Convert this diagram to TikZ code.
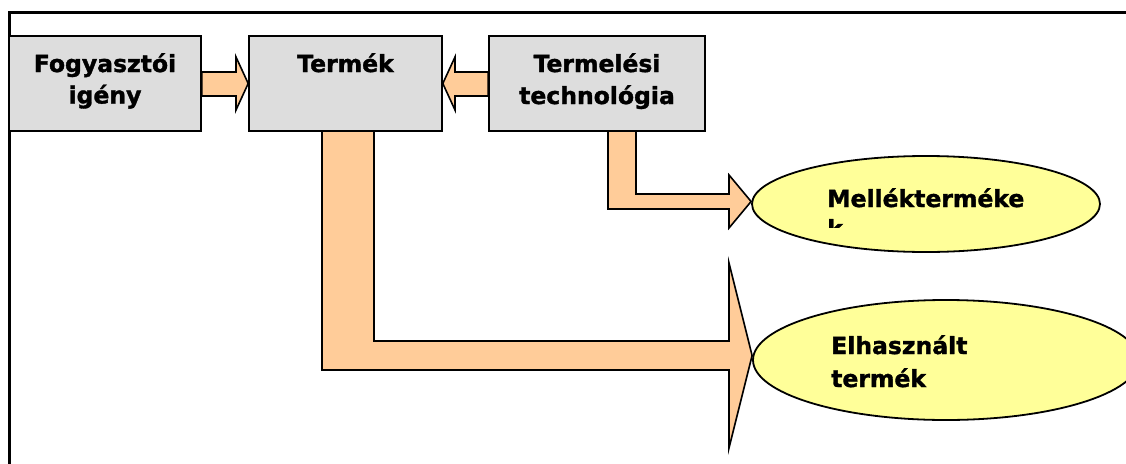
\documentclass[tikz,border=0pt]{standalone}
\usepackage{fontspec}
\setmainfont{DejaVu Sans}[BoldFeatures={FakeBold=1.5}]
\usetikzlibrary{shapes.geometric}
\definecolor{boxgray}{HTML}{DDDDDD}
\definecolor{arrowfill}{HTML}{FFCC99}
\definecolor{ellfill}{HTML}{FFFF99}
\tikzset{
  boxnode/.style={draw=black, line width=1.6pt, fill=boxgray, inner sep=0pt, minimum height=95pt},
  blockarrow/.style={draw=black, line width=1.6pt, fill=arrowfill, line join=miter},
  ellnode/.style={ellipse, draw=black, line width=1.8pt, fill=ellfill, inner sep=0pt},
  txt/.style={inner sep=0pt, font=\bfseries\fontsize{23.5}{30}\selectfont, text=black},
  frameline/.style={draw=black, line width=3pt}
}
\begin{document}
\begin{tikzpicture}[x=1pt, y=-1pt]
\useasboundingbox (0,0) rectangle (1126,463);
\fill[white] (0,0) rectangle (1126,463);
% frame
\draw[frameline] (9.5,480) -- (9.5,12) -- (1140,12);
% boxes
\node[boxnode, minimum width=192pt] (b1) at (105,83.5) {};
\node[boxnode, minimum width=193pt] (b2) at (345.5,83.5) {};
\node[boxnode, minimum width=216pt] (b3) at (597,83.5) {};
% ellipses
\node[ellnode, minimum width=348pt, minimum height=96pt] (e1) at (926,204) {};
\node[ellnode, minimum width=386pt, minimum height=120pt] (e2) at (946,360) {};
% block arrows
\draw[blockarrow] (b1.east |- 0,72) -- (236,72) -- (236,57) -- (b2.west) -- (236,110) -- (236,96) -- (b1.east |- 0,96) -- cycle;
\draw[blockarrow] (b3.west |- 0,72) -- (455,72) -- (455,57) -- (b2.east) -- (455,110) -- (455,96) -- (b3.west |- 0,96) -- cycle;
\draw[blockarrow] (322,131) -- (374,131) -- (374,341) -- (729,341) -- (729,263) -- (e2.west |- 0,355.5) -- (729,448) -- (729,370) -- (322,370) -- cycle;
\draw[blockarrow] (608,131) -- (636,131) -- (636,194) -- (729,194) -- (729,175) -- (e1.west |- 0,201.5) -- (729,228) -- (729,209) -- (608,209) -- cycle;
% texts
\node[txt, anchor=base] (t1a) at (105,72) {Fogyasztói};
\node[txt, anchor=base] (t1b) at (105,103.5) {igény};
\node[txt, anchor=base] (t2) at (345.5,72) {Termék};
\node[txt, anchor=base] (t3a) at (597,72) {Termelési};
\node[txt, anchor=base] (t3b) at (597,104) {technológia};
\node[txt, anchor=base west] (t4a) at (827,207) {Mellékterméke};
\begin{scope}
\clip (800,200) rectangle (1100,227);
\node[txt, anchor=base west] (t4b) at (827,237) {k};
\end{scope}
\node[txt, anchor=base west] (t5a) at (831,354) {Elhasznált};
\node[txt, anchor=base west] (t5b) at (831,387) {termék};
\end{tikzpicture}
\end{document}
